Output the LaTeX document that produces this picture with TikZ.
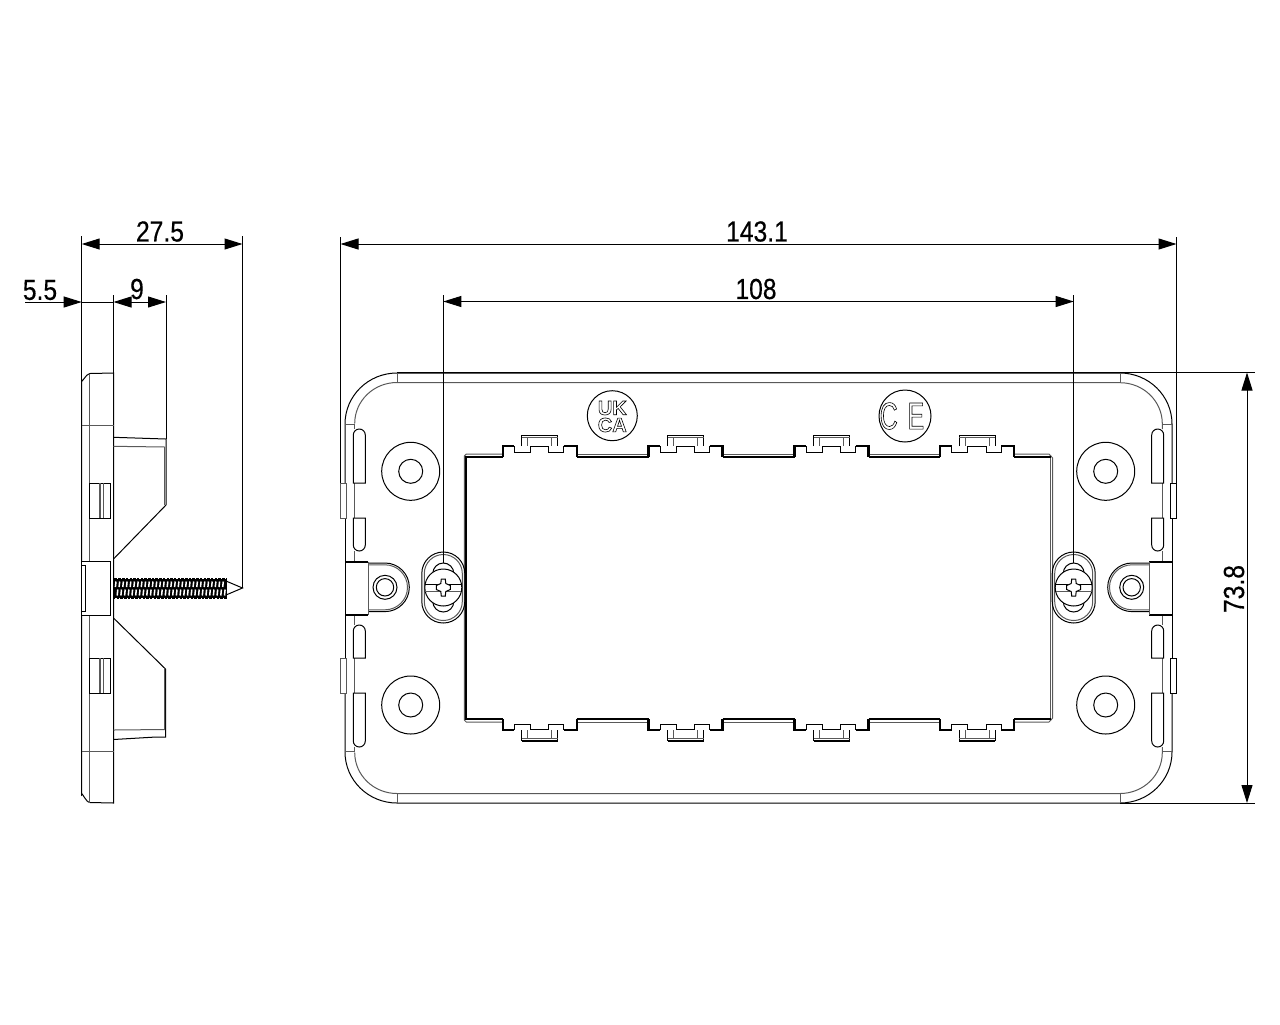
\documentclass[tikz,border=0pt]{standalone}
\usepackage{fontspec}
\setmainfont{Liberation Sans}
\newfontfamily\dimfont[FakeStretch=0.85,FakeBold=0.4]{Liberation Sans}
\newfontfamily\markfont[FakeStretch=0.65]{Liberation Sans}
\usetikzlibrary{arrows.meta}
\tikzstyle{thin_line}=[black,line width=0.5pt]
\tikzstyle{grey_line}=[black!65,line width=0.5pt]
\tikzstyle{thick_line}=[black,line width=1.1pt]
\tikzstyle{dim_line}=[black,line width=0.5pt,{Triangle[length=9pt,width=5.5pt]}-{Triangle[length=9pt,width=5.5pt]}]
\tikzstyle{dim_text}=[inner sep=0pt,font=\dimfont\fontsize{14.5}{15}\selectfont]
\tikzstyle{mark_text}=[inner sep=0pt,font=\bfseries\fontsize{10}{11}\selectfont]
% outlined glyphs for the marks
\newcommand{\outlinetext}[1]{\special{pdf:code 1 Tr 0.3 w}#1\special{pdf:code 0 Tr}}
% one clip of the opening, #1 = centre, #2 = 1 on top and -1 below
\newcommand{\opentab}[2]{
\begin{scope}[shift={(#1,588)},yscale=#2]
\draw[thick_line] (-37,-131) -- (-37,-142) -- (-25.5,-142);
\draw[thin_line] (-25.5,-142) -- (-25.5,-136) -- (-9.5,-136) -- (-9.5,-141.5) -- (9,-141.5) -- (9,-136) -- (24,-136) -- (24,-142);
\draw[thick_line] (24,-142) -- (37,-142) -- (37,-131);
\draw[thin_line] (-18,-142) -- (-18,-152.7) -- (18,-152.7) -- (18,-142);
\draw[grey_line] (-18,-150.3) -- (18,-150.3) (-12,-150.3) -- (-12,-142) (12,-150.3) -- (12,-142);
\end{scope}}
% one screw in its slot
\newcommand{\slotscrew}[1]{
\begin{scope}[shift={(#1,587.5)}]
\draw[thin_line] (-21.5,-14) arc (180:360:21.5) -- (21.5,14) arc (0:180:21.5) -- cycle;
\draw[grey_line] (-19,-14) arc (180:360:19) -- (19,14) arc (0:180:19) -- cycle;
\draw[thin_line] (0,-14) circle (10.5) (0,14) circle (10.5);
\draw[thin_line,fill=white] (0,0) circle (18.5);
\draw[thin_line] (-18,-3.5) -- (18,-3.5);
\draw[grey_line] (-18,3.5) -- (18,3.5);
\draw[thin_line,fill=white] (-2,-8.5) -- (2,-8.5) -- (2.5,-4) -- (7,-2) -- (7,2) -- (2.5,4) -- (2,8.5) -- (-2,8.5) -- (-2.5,4) -- (-7,2) -- (-7,-2) -- (-2.5,-4) -- cycle;
\end{scope}}
\begin{document}
\begin{tikzpicture}[x=0.5pt,y=-0.5pt]
\useasboundingbox (0,0) rectangle (1280,1024);

% side view
\draw[thin_line] (81.7,380) to[out=-90,in=180] (90,373.5) -- (113.5,373) -- (113.5,803) -- (90,802.5) to[out=180,in=90] (81.7,795) -- cycle;
\draw[grey_line] (89.5,374) -- (89.5,561) (89.5,616) -- (89.5,803);
\draw[grey_line] (81.7,425) -- (113.5,425) (81.7,751) -- (113.5,751);
\foreach \y in {483,658} {
\draw[thin_line] (89.5,\y) rectangle (110.5,\y+35);
\draw[grey_line,line width=1pt] (99.5,\y) -- (99.5,\y+35);
\draw[grey_line] (103,\y) -- (103,\y+35);
}
\draw[thin_line,fill=white] (81.7,561.7) rectangle (110,615);
\draw[thin_line] (81.7,565.3) rectangle (85.7,611.7);
\draw[thin_line] (113.5,437.3) -- (166,439) -- (166,505) -- (113.5,559);
\draw[grey_line] (113.5,446.3) -- (165,447) (164.5,447) -- (164.5,505);
\draw[thin_line] (113.5,618) -- (165.5,669) -- (165.5,737) -- (156,737) -- (113.5,739.5);
\draw[grey_line] (113.5,730) -- (165,729.5) (164.5,669) -- (164.5,730);
% thread of the screw
\draw[thin_line,fill=black] (114,578.3) rectangle (226,598.3);
\foreach \x in {116,119.7,...,224} {
\draw[white,line width=0.75pt] (\x,581.5) -- (\x-0.6,587) (\x+1.8,589.5) -- (\x+1.2,595.5);
\draw[white,line width=0.6pt] (\x+1.8,577.5) -- (\x+1.8,579) (\x,597.5) -- (\x,599);
}
\draw[thin_line] (226,581) -- (242.5,588) -- (226,595);

% plate outline
\draw[thin_line] (345,483) -- (345,424) arc (180:270:52 and 51) -- (1120,373) arc (-90:0:52 and 51) -- (1172,483);
\draw[thin_line] (345,693) -- (345,752) arc (180:90:52 and 51) -- (1120,803) arc (90:0:52 and 51) -- (1172,693);
\draw[thin_line] (345,518) -- (345,658);
\draw[thin_line] (1172,518) -- (1172,658);
\draw[grey_line] (354.7,423.5) arc (180:270:42.3 and 41) -- (1120,382.7) arc (-90:0:42.3 and 41) -- (1162.3,429);
\draw[grey_line] (354.7,752.5) arc (180:90:42.3 and 41) -- (1120,793.5) arc (90:0:42.3 and 41) -- (1162.3,747);
\draw[grey_line] (397,373) -- (397,382.7) (1120,373) -- (1120,382.7) (397,793.5) -- (397,803) (1120,793.5) -- (1120,803);
\draw[grey_line] (345,424.5) -- (354.7,424.5) (1162.3,424.5) -- (1172,424.5) (345,751.5) -- (354.7,751.5) (1162.3,751.5) -- (1172,751.5);
\draw[grey_line] (354.7,424) -- (354.7,429) (354.7,483) -- (354.7,518) (354.7,551) -- (354.7,561.7) (354.7,615) -- (354.7,625) (354.7,658) -- (354.7,693) (354.7,747) -- (354.7,752);
\draw[grey_line] (1162.3,424) -- (1162.3,429) (1162.3,483) -- (1162.3,518) (1162.3,551) -- (1162.3,561.7) (1162.3,615) -- (1162.3,625) (1162.3,658) -- (1162.3,693) (1162.3,747) -- (1162.3,752);
% notches in the rim
\foreach \y in {483,658} {
\draw[grey_line] (340.5,\y) rectangle (346,\y+35);
\draw[thin_line] (1170.5,\y) rectangle (1176.5,\y+35);
}
% long slots of the rim
\foreach \x in {353.3,1151.7} {
\draw[thin_line] (\x,483) -- (\x,435) arc (180:360:6) -- (\x+12,483) -- cycle;
\draw[thin_line] (\x,518) -- (\x,545) arc (180:0:6) -- (\x+12,518) -- cycle;
\draw[thin_line] (\x,658) -- (\x,631) arc (180:360:6) -- (\x+12,658) -- cycle;
\draw[thin_line] (\x,693) -- (\x,741) arc (180:0:6) -- (\x+12,693) -- cycle;
}
% fixing holes
\foreach \x in {410.7,1105.7} {
\foreach \y in {471.3,705} {
\draw[thin_line] (\x,\y) circle (29) (\x,\y) circle (12);
}
}
% side clips
\draw[thin_line] (368.3,563) -- (385,563) arc (-90:90:24.3) -- (368.3,611.6);
\draw[grey_line] (368.3,564.8) -- (385,564.8) arc (-90:90:22.5) -- (368.3,609.8);
\draw[thin_line] (385,587.3) circle (12) circle (8.7);
\draw[thick_line] (345,561.7) -- (368.3,561.7) (345,615) -- (368.3,615);
\draw[grey_line] (368.3,561.7) -- (368.3,615);
\draw[thin_line] (1149.3,563) -- (1132,563) arc (-90:-270:24.3) -- (1149.3,611.6);
\draw[grey_line] (1149.3,564.8) -- (1132,564.8) arc (-90:-270:22.5) -- (1149.3,609.8);
\draw[thin_line] (1131.7,587.3) circle (12) circle (8.7);
\draw[thick_line] (1149.3,561.7) -- (1172,561.7) (1149.3,615) -- (1172,615);
\draw[grey_line] (1149.3,561.7) -- (1149.3,615);

% opening
\draw[thick_line] (502.7,457) -- (466.3,457) -- (466.3,719) -- (502.7,719);
\draw[grey_line] (502.7,454) -- (466.3,454) -- (464.3,456) -- (464.3,720) -- (466.3,722) -- (502.7,722);
\draw[grey_line] (1014,454) -- (1049,454) -- (1052.7,458) -- (1052.7,718) -- (1049,722) -- (1014,722);
\draw[grey_line] (1050.5,457) -- (1050.5,719);
\draw[thick_line] (1014,457) -- (1050.5,457) (1014,719) -- (1050.5,719);
\foreach \a/\b in {576.7/648.5,722.5/794.5,868.5/940.3} {
\draw[thick_line] (\a,457) -- (\b,457) (\a,719) -- (\b,719);
\draw[grey_line] (\a,454) -- (\b,454) (\a,722) -- (\b,722);
}
\foreach \c in {539.7,685.5,831.5,977.3} {
\opentab{\c}{1}
\opentab{\c}{-1}
\draw[thick_line] (\c-18,741) -- (\c+18,741);
}
\slotscrew{443.3}
\slotscrew{1073.7}

% marks
\draw[thin_line] (612.3,415.7) circle (25) (905,416) circle (26);
\node[mark_text] (mark_uk) at (612.3,408) {\outlinetext{UK}};
\node[mark_text] (mark_ca) at (612.3,425) {\outlinetext{CA}};
\node[inner sep=0pt,font=\markfont\fontsize{19}{20}\selectfont] (mark_ce) at (902,416) {\outlinetext{C\hspace{5pt}E}};

% dimensions
\coordinate (side_a) at (81.7,236);
\coordinate (side_a_low) at (81.7,380);
\coordinate (side_b) at (242.5,236);
\coordinate (side_b_low) at (242.5,588);
\coordinate (side_c) at (113.5,295);
\coordinate (side_c_low) at (113.5,373);
\coordinate (side_d) at (166,295);
\coordinate (side_d_low) at (166,439);
\coordinate (free_end) at (25,302);
\coordinate (plate_a) at (340.5,237);
\coordinate (plate_a_low) at (340.5,483);
\coordinate (plate_b) at (1176.5,237);
\coordinate (plate_b_low) at (1176.5,483);
\coordinate (screw_a) at (443.3,295);
\coordinate (screw_a_low) at (443.3,563);
\coordinate (screw_b) at (1073.7,295);
\coordinate (screw_b_low) at (1073.7,563);
\coordinate (top_b) at (1255,372.5);
\coordinate (low_a) at (1120,803);
\coordinate (low_b) at (1255,803);
\draw[thin_line] (side_a) -- (side_a_low) (side_b) -- (side_b_low) (side_c) -- (side_c_low) (side_d) -- (side_d_low);
\draw[thin_line] (plate_a) -- (plate_a_low) (plate_b) -- (plate_b_low) (screw_a) -- (screw_a_low) (screw_b) -- (screw_b_low);
\draw[thin_line] (397,372.5) -- (top_b) (low_a) -- (low_b);
\draw[dim_line] (81.7,244) -- (242.5,244);
\draw[dim_line] (113.5,302) -- (166,302);
\draw[thin_line,-{Triangle[length=9pt,width=5.5pt]}] (free_end) -- (81.7,302);
\draw[thin_line] (81.7,302) -- (113.5,302);
\draw[dim_line] (340.5,244) -- (1176.5,244);
\draw[dim_line] (443.3,301.5) -- (1073.7,301.5);
\draw[dim_line] (1247,372.5) -- (1247,803);
\node[dim_text] (dim_depth) at (160,231.5) {27.5};
\node[dim_text] (dim_plate) at (40,290) {5.5};
\node[dim_text] (dim_back) at (137,289) {9};
\node[dim_text] (dim_width) at (757,231.5) {143.1};
\node[dim_text] (dim_centres) at (756,289) {108};
\node[dim_text,rotate=90] (dim_height) at (1234,589) {73.8};
\end{tikzpicture}
\end{document}
